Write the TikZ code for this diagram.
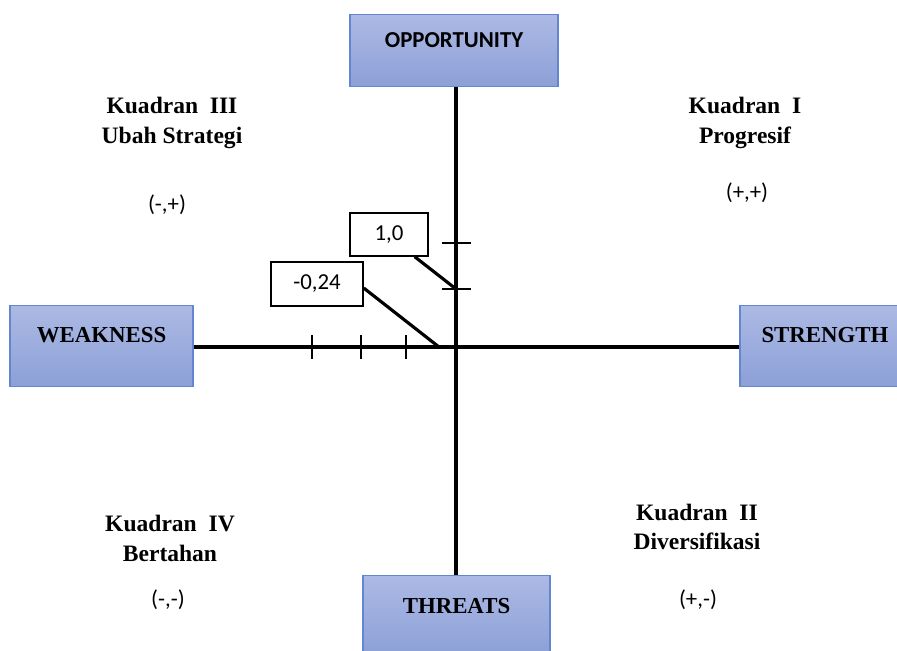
\documentclass[tikz,border=0pt]{standalone}
\usepackage{fontspec}
\setmainfont{Liberation Serif}
\newfontfamily\calfont{Carlito}
\definecolor{boxtop}{RGB}{172,185,228}
\definecolor{boxbot}{RGB}{140,160,215}
\definecolor{boxline}{RGB}{98,134,210}
\tikzset{
	sidebox/.style={draw=boxline, line width=0.8pt, top color=boxtop, bottom color=boxbot, inner ysep=0pt, font=\fontsize{13}{16}\selectfont\bfseries},
	valbox/.style={draw, line width=0.8pt, fill=white, inner sep=0pt, font=\calfont\fontsize{13}{16}\selectfont},
	quadtext/.style={align=center, font=\fontsize{13.4}{17}\selectfont\bfseries},
	signtext/.style={font=\calfont\fontsize{13}{16}\selectfont}
}
\begin{document}
\begin{tikzpicture}[x=0.02cm, y=-0.02cm]
	
	\clip (0,0) rectangle (897,650);
	\fill[white] (0,0) rectangle (897,650);
	
	% Side boxes
	\node[sidebox, anchor=north, minimum width=4.16cm, text height=0.66cm, text depth=0.78cm, font=\calfont\fontsize{13}{16}\selectfont\bfseries] (opp) at (454,14) {OPPORTUNITY};
	\node[sidebox, anchor=north, minimum width=3.66cm, text height=0.74cm, text depth=0.88cm] (weak) at (101.5,305) {WEAKNESS};
	\node[sidebox, anchor=north, minimum width=3.4cm, text height=0.74cm, text depth=0.88cm] (str) at (825,305) {STRENGTH};
	\node[sidebox, anchor=north, minimum width=3.74cm, text height=0.76cm, text depth=0.84cm] (thr) at (456.5,575) {THREATS};
	
	\coordinate (o) at (456,347);
	
	% Axes
	\draw[line width=2pt] (o |- opp.south) -- (o |- thr.north);
	\draw[line width=2pt] (weak.east |- o) -- (str.west |- o);
	
	% Ticks
	\coordinate (t1) at (456,289);
	\coordinate (t2) at (439,347);
	\foreach \y in {243,289}
		\draw[line width=1.1pt] (442,\y) -- (471,\y);
	\foreach \x in {312,361,406}
		\draw[line width=1.1pt] (\x,335) -- (\x,359);
	
	% Value labels
	\node[valbox, minimum width=1.56cm, minimum height=0.86cm] (one) at (389,234.5) {1,0};
	\node[valbox, minimum width=1.84cm, minimum height=0.88cm] (neg) at (317,284) {-0,24};
	\draw[line width=1.8pt] (one.south east) ++(-14,0) -- (t1);
	\draw[line width=1.8pt] (neg.east) ++(0,4) -- (t2);
	
	% Quadrant labels
	\node[quadtext] (q3) at (172,123) {Kuadran\ \ III\\Ubah Strategi};
	\node[quadtext] (q1) at (745,123) {Kuadran\ \ I\\Progresif};
	\node[quadtext] (q4) at (170,538.5) {Kuadran\ \ IV\\Bertahan};
	\node[quadtext] (q2) at (697,527) {Kuadran\ \ II\\Diversifikasi};
	
	% Signs
	\node[signtext] (s3) at (167,205) {(-,+)};
	\node[signtext] (s1) at (747,193) {(+,+)};
	\node[signtext] (s4) at (168,600) {(-,-)};
	\node[signtext] (s2) at (698,600) {(+,-)};
	
\end{tikzpicture}
\end{document}
